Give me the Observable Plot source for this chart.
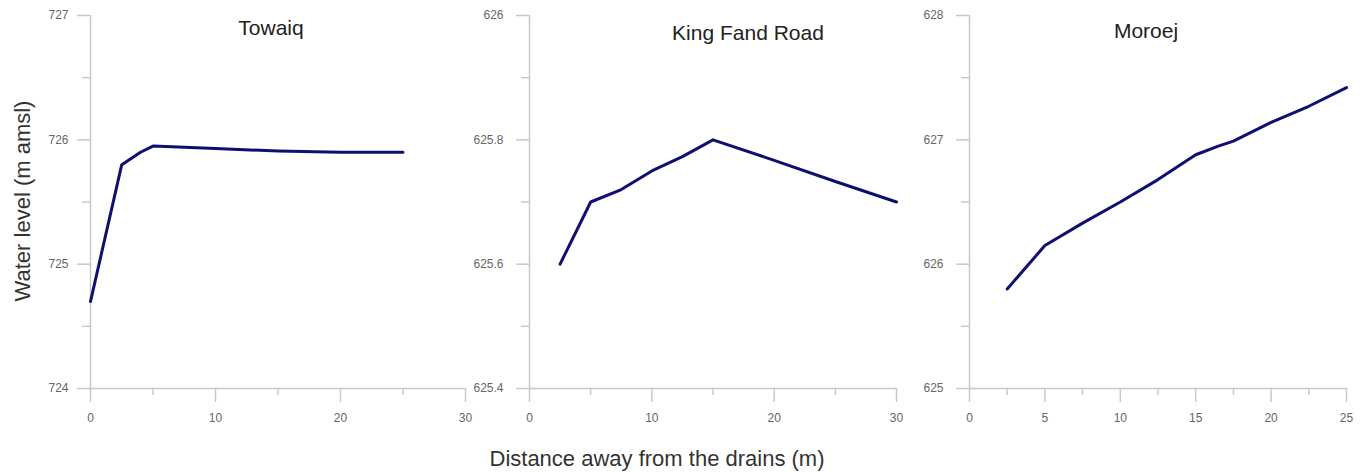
<!DOCTYPE html>
<html>
<head>
<meta charset="utf-8">
<script src="https://cdn.jsdelivr.net/npm/d3@7"></script>
<script src="https://cdn.jsdelivr.net/npm/@observablehq/plot@0.6"></script>
<style>
  html, body { margin: 0; padding: 0; background: #fff; }
  #chart { position: relative; width: 1361px; height: 472px; overflow: hidden; font-family: "Liberation Sans", Arial, sans-serif; }
  .panel { position: absolute; top: 0; }
  .ylab { position: absolute; left: 23px; top: 201px; transform: translate(-50%, -50%) rotate(-90deg); font-size: 22px; line-height: 22px; color: #333; white-space: nowrap; }
  .xlab { position: absolute; left: 657px; top: 459px; transform: translate(-50%, -50%); font-size: 22px; line-height: 22px; color: #333; white-space: nowrap; }
</style>
</head>
<body>
<div id="chart">
  <div class="ylab">Water level (m amsl)</div>
  <div class="xlab">Distance away from the drains (m)</div>
</div>
<script>
// ---- data ----
const titles = ["Towaiq", "King Fand Road", "Moroej"];

const towaiqDist  = [0, 2.5, 4, 5, 10, 15, 20, 25];
const towaiqLevel = [724.7, 725.8, 725.9, 725.95, 725.93, 725.91, 725.9, 725.9];

const kfrDist  = [2.5, 5, 7.5, 10, 12.5, 15, 20, 25, 30];
const kfrLevel = [625.6, 625.7, 625.72, 625.75, 625.773, 625.8, 625.767, 625.733, 625.7];

const moroejDist  = [2.5, 5, 7.5, 10, 12.5, 15, 16.5, 17.5, 20, 22.5, 25];
const moroejLevel = [625.8, 626.15, 626.33, 626.5, 626.68, 626.88, 626.95, 626.99, 627.14, 627.27, 627.42];

// tick values
const towaiqXTicks = [0, 10, 20, 30];
const towaiqXMinor = [5, 15, 25];
const towaiqYTicks = [724, 725, 726, 727];
const towaiqYMinor = [724.5, 725.5, 726.5];

const kfrXTicks = [0, 10, 20, 30];
const kfrXMinor = [5, 15, 25];
const kfrYTicks = [625.4, 625.6, 625.8, 626];
const kfrYMinor = [625.5, 625.7, 625.9];

const moroejXTicks = [0, 5, 10, 15, 20, 25];
const moroejXMinor = [2.5, 7.5, 12.5, 17.5, 22.5];
const moroejYTicks = [625, 626, 627, 628];
const moroejYMinor = [625.5, 626.5, 627.5];

// ---- drawing ----
const AXIS = "#c9c9c9";
const LABEL = "#666";
const LINE = "#0f0f70";

function panel({title, xs, ys, xDomain, yDomain, xTicks, xMinor, yTicks, yMinor,
                left, width, marginLeft, marginRight, yPad, tdx, tdy}) {
  const data = xs.map((x, i) => ({x, y: ys[i]}));
  const p = Plot.plot({
    width, height: 430,
    marginLeft, marginRight, marginTop: 15, marginBottom: 42,
    style: {background: "transparent", overflow: "visible", fontFamily: "Liberation Sans, Arial, sans-serif"},
    x: {domain: xDomain},
    y: {domain: yDomain},
    marks: [
      Plot.ruleX([xDomain[0]], {stroke: AXIS, strokeWidth: 1.5}),
      Plot.ruleY([yDomain[0]], {stroke: AXIS, strokeWidth: 1.5}),
      Plot.axisY({ticks: yTicks, tickSize: 13, tickPadding: yPad, fontSize: 12,
                  stroke: AXIS, strokeWidth: 1.5, fill: LABEL, tickFormat: d => String(d), label: null}),
      Plot.axisY({ticks: yMinor, tickSize: 8, stroke: AXIS, strokeWidth: 1.5, tickFormat: () => "", label: null}),
      Plot.axisX({ticks: xTicks, tickSize: 14, tickPadding: 11, fontSize: 12,
                  stroke: AXIS, strokeWidth: 1.5, fill: LABEL, tickFormat: d => String(d), label: null}),
      Plot.axisX({ticks: xMinor, tickSize: 7, stroke: AXIS, strokeWidth: 1.5, tickFormat: () => "", label: null}),
      Plot.line(data, {x: "x", y: "y", stroke: LINE, strokeWidth: 3, strokeLinejoin: "round"}),
      Plot.text([title], {frameAnchor: "top", lineAnchor: "middle", dx: tdx, dy: tdy,
                          fontSize: 21, fill: "#222"})
    ]
  });
  const wrap = document.createElement("div");
  wrap.className = "panel";
  wrap.style.left = left + "px";
  wrap.appendChild(p);
  document.getElementById("chart").appendChild(wrap);
}

panel({title: titles[0], xs: towaiqDist, ys: towaiqLevel,
       xDomain: [towaiqXTicks[0], towaiqXTicks[towaiqXTicks.length - 1]],
       yDomain: [towaiqYTicks[0], towaiqYTicks[towaiqYTicks.length - 1]],
       xTicks: towaiqXTicks, xMinor: towaiqXMinor, yTicks: towaiqYTicks, yMinor: towaiqYMinor,
       left: 0, width: 475, marginLeft: 90, marginRight: 10, yPad: 9, tdx: -7, tdy: 13});

panel({title: titles[1], xs: kfrDist, ys: kfrLevel,
       xDomain: [kfrXTicks[0], kfrXTicks[kfrXTicks.length - 1]],
       yDomain: [kfrYTicks[0], kfrYTicks[kfrYTicks.length - 1]],
       xTicks: kfrXTicks, xMinor: kfrXMinor, yTicks: kfrYTicks, yMinor: kfrYMinor,
       left: 465, width: 440, marginLeft: 64, marginRight: 9, yPad: 13, tdx: 35, tdy: 18});

panel({title: titles[2], xs: moroejDist, ys: moroejLevel,
       xDomain: [moroejXTicks[0], moroejXTicks[moroejXTicks.length - 1]],
       yDomain: [moroejYTicks[0], moroejYTicks[moroejYTicks.length - 1]],
       xTicks: moroejXTicks, xMinor: moroejXMinor, yTicks: moroejYTicks, yMinor: moroejYMinor,
       left: 905, width: 456, marginLeft: 64, marginRight: 15, yPad: 13, tdx: -12, tdy: 16});
</script>
</body>
</html>
